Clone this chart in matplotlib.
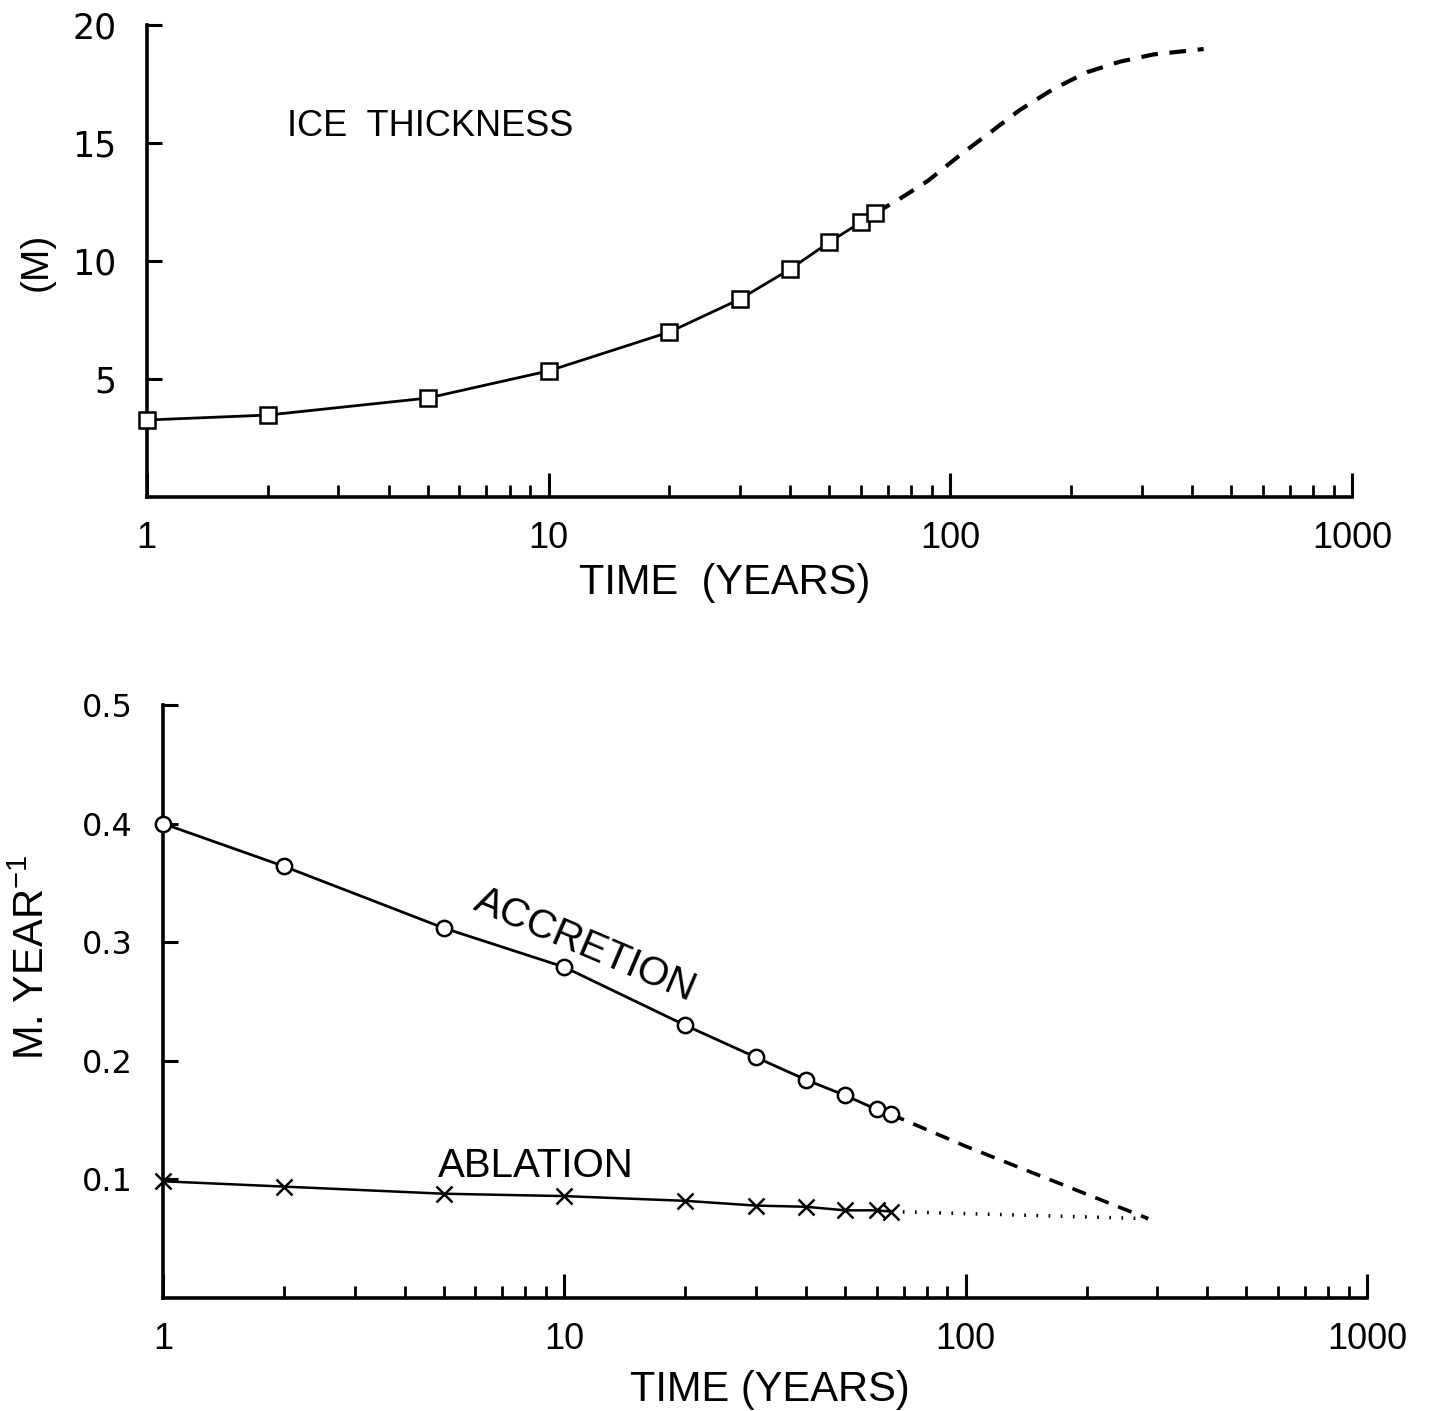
import matplotlib
matplotlib.use("Agg")
import matplotlib.pyplot as plt
from matplotlib.ticker import LogLocator, NullFormatter

plt.rcParams['font.family'] = ['Liberation Sans', 'DejaVu Sans']

# ice thickness (top panel)
years_ice = [1, 2, 5, 10, 20, 30, 40, 50, 60, 65]
thickness = [3.26, 3.47, 4.19, 5.34, 6.99, 8.39, 9.66, 10.8, 11.65, 12.03]
years_ice_ext = [65, 74, 88, 106, 128, 149, 181, 219, 265, 320, 427]
thickness_ext = [12.03, 12.58, 13.4, 14.5, 15.55, 16.4, 17.3, 18.0, 18.45, 18.75, 18.98]

# accretion / ablation rates (bottom panel)
years_rate = [1, 2, 5, 10, 20, 30, 40, 50, 60, 65]
accretion = [0.400, 0.364, 0.312, 0.279, 0.230, 0.203, 0.184, 0.171, 0.159, 0.155]
ablation = [0.0985, 0.094, 0.088, 0.086, 0.082, 0.078, 0.077, 0.074, 0.074, 0.073]
years_ext = [65, 100, 285]
accretion_ext = [0.155, 0.128, 0.067]
years_abl_ext = [65, 285]
ablation_ext = [0.073, 0.067]

xticks = [1, 10, 100, 1000]
xticklabels = ['1', '10', '100', '1000']
yticks_top = [5, 10, 15, 20]
yticklabels_top = ['5', '10', '15', '20']
yticks_bot = [0.1, 0.2, 0.3, 0.4, 0.5]
yticklabels_bot = ['0.1', '0.2', '0.3', '0.4', '0.5']

W, H = 1439, 1411
fig = plt.figure(figsize=(W / 100, H / 100), dpi=100)
ax1 = fig.add_axes([0.102, 0.6478, 0.8376, 0.3345])
ax2 = fig.add_axes([0.1133, 0.0800, 0.8367, 0.4204])


def style(ax, ysize):
    ax.set_xscale('log')
    ax.set_xlim(1, 1000)
    for s in ['top', 'right']:
        ax.spines[s].set_visible(False)
    for s in ['left', 'bottom']:
        ax.spines[s].set_linewidth(2.6)
    ax.set_xticks(xticks, xticklabels)
    ax.xaxis.set_minor_locator(LogLocator(base=10, subs=range(2, 10)))
    ax.xaxis.set_minor_formatter(NullFormatter())
    ax.tick_params(axis='x', which='major', direction='in', length=17, width=2.2,
                   pad=17, labelsize=26)
    ax.tick_params(axis='x', which='minor', direction='in', length=9, width=2.0)
    ax.tick_params(axis='y', which='major', direction='in', length=11, width=2.2,
                   pad=22, labelsize=ysize, labelfontfamily='DejaVu Sans')


def ftext(px, py, s, **kw):
    # place text by pixel position in the figure
    fig.text(px / W, 1 - py / H, s, ha='center', va='center', **kw)


# top panel
ax1.set_ylim(0, 20)
ax1.set_yticks(yticks_top, yticklabels_top)
style(ax1, 25)
ax1.plot(years_ice, thickness, color='black', lw=2, marker='s', ms=12,
         mfc='white', mec='black', mew=1.8, clip_on=False, zorder=3)
ax1.plot(years_ice_ext, thickness_ext, color='black', lw=3, ls=(0, (4, 2.8)))
ftext(430, 127, 'ICE  THICKNESS', fontsize=26)
ftext(725, 583, 'TIME  (YEARS)', fontsize=30)
ftext(37, 262, '(M)', fontsize=28, rotation=90)

# bottom panel
ax2.set_ylim(0, 0.5)
ax2.set_yticks(yticks_bot, yticklabels_bot)
style(ax2, 23)
ax2.plot(years_rate, accretion, color='black', lw=2, marker='o', ms=11,
         mfc='white', mec='black', mew=1.8, clip_on=False, zorder=3)
ax2.plot(years_ext, accretion_ext, color='black', lw=2.6, ls=(0, (4, 2.8)))
ax2.plot(years_rate, ablation, color='black', lw=1.8, marker='x', ms=12,
         mew=1.8, clip_on=False, zorder=3)
ax2.plot(years_abl_ext, ablation_ext, color='black', lw=2.5, ls=(0, (0.5, 3)))
ftext(585, 945, 'ACCRETION', fontsize=29, rotation=-23)
ftext(536, 1166, 'ABLATION', fontsize=29)
ftext(770, 1390, 'TIME (YEARS)', fontsize=30)
ftext(33, 957, 'M. YEAR$^{\\mathregular{-1}}$', fontsize=30, rotation=90)

fig.savefig('out.png', dpi=100)
